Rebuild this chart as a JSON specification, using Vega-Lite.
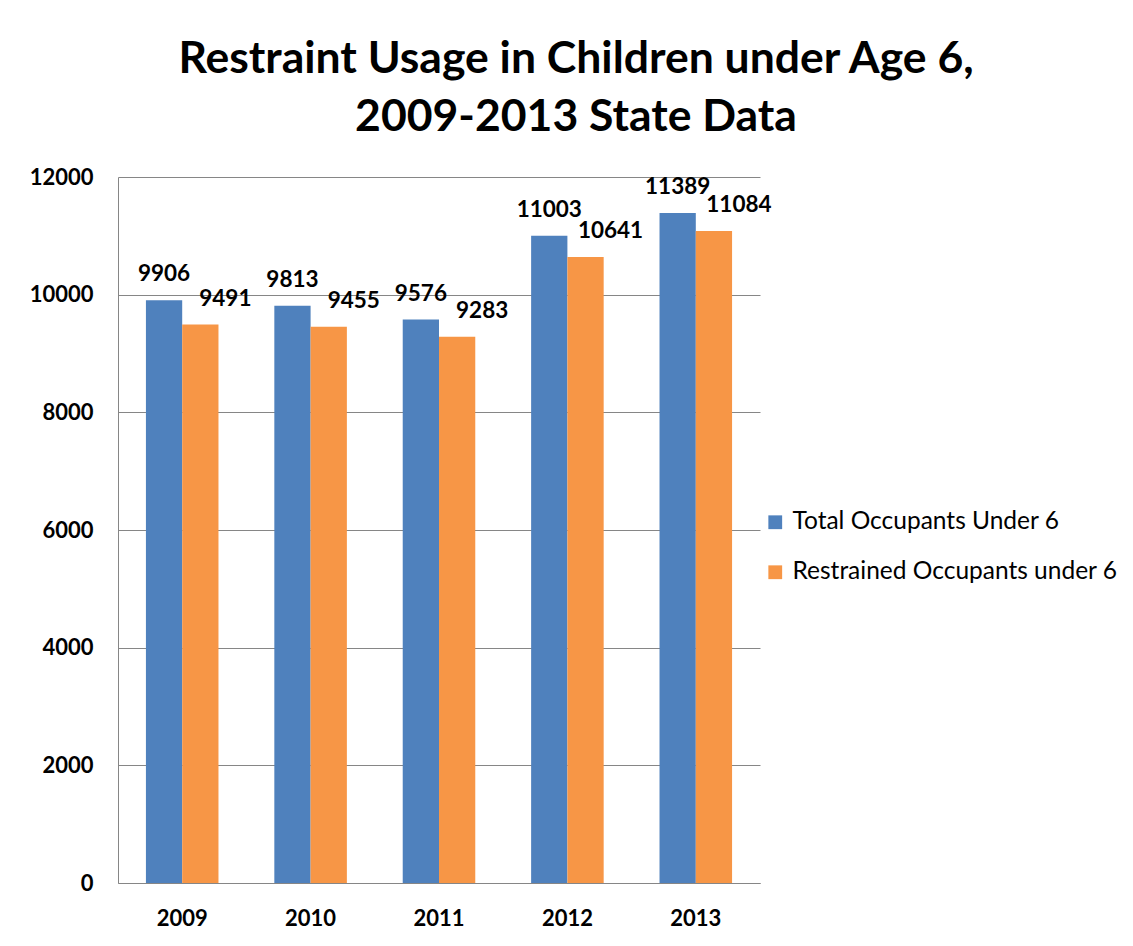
{
  "$schema": "https://vega.github.io/schema/vega-lite/v6.json",
  "width": 642,
  "height": 706,
  "autosize": {"type": "none"},
  "padding": {"left": 118, "top": 177, "right": 373, "bottom": 63},
  "background": "white",
  "config": {"view": {"stroke": null}},
  "title": {
    "text": ["Restraint Usage in Children under Age 6,", "2009-2013 State Data"],
    "font": "Lato",
    "fontSize": 44.5,
    "fontWeight": "bold",
    "color": "#000000",
    "anchor": "middle",
    "dx": 137,
    "lineHeight": 58,
    "offset": 26
  },
  "data": {
    "values": [
      {"year": "2009", "series": "Total Occupants Under 6", "value": 9906},
      {"year": "2009", "series": "Restrained Occupants under 6", "value": 9491},
      {"year": "2010", "series": "Total Occupants Under 6", "value": 9813},
      {"year": "2010", "series": "Restrained Occupants under 6", "value": 9455},
      {"year": "2011", "series": "Total Occupants Under 6", "value": 9576},
      {"year": "2011", "series": "Restrained Occupants under 6", "value": 9283},
      {"year": "2012", "series": "Total Occupants Under 6", "value": 11003},
      {"year": "2012", "series": "Restrained Occupants under 6", "value": 10641},
      {"year": "2013", "series": "Total Occupants Under 6", "value": 11389},
      {"year": "2013", "series": "Restrained Occupants under 6", "value": 11084}
    ]
  },
  "encoding": {
    "x": {
      "field": "year",
      "type": "nominal",
      "scale": {"paddingInner": 0.435, "paddingOuter": 0.2175},
      "axis": {
        "title": null,
        "labelAngle": 0,
        "labelFont": "Lato",
        "labelFontSize": 22,
        "labelFontWeight": "bold",
        "labelColor": "#000000",
        "labelPadding": 25,
        "ticks": false,
        "domainColor": "#868686",
        "grid": false
      }
    },
    "xOffset": {
      "field": "series",
      "type": "nominal",
      "sort": ["Total Occupants Under 6", "Restrained Occupants under 6"],
      "scale": {"paddingInner": 0, "paddingOuter": 0}
    },
    "y": {
      "field": "value",
      "type": "quantitative",
      "scale": {"domain": [0, 12000], "nice": false},
      "axis": {
        "title": null,
        "values": [0, 2000, 4000, 6000, 8000, 10000, 12000],
        "format": "d",
        "labelFont": "Lato",
        "labelFontSize": 22,
        "labelFontWeight": "bold",
        "labelColor": "#000000",
        "labelPadding": 25,
        "ticks": false,
        "domainColor": "#868686",
        "gridColor": "#868686",
        "gridOpacity": 1
      }
    }
  },
  "layer": [
    {
      "mark": {"type": "bar"},
      "encoding": {
        "color": {
          "field": "series",
          "type": "nominal",
          "sort": ["Total Occupants Under 6", "Restrained Occupants under 6"],
          "scale": {
            "domain": ["Total Occupants Under 6", "Restrained Occupants under 6"],
            "range": ["#4F81BD", "#F79646"]
          },
          "legend": {
            "orient": "none",
            "legendX": 645,
            "legendY": 333,
            "title": null,
            "symbolType": "square",
            "symbolSize": 190,
            "symbolStrokeWidth": 0,
            "labelFont": "Lato",
            "labelFontSize": 24.5,
            "labelColor": "#000000",
            "labelOffset": 5,
            "rowPadding": 25,
            "labelLimit": 400
          }
        }
      }
    },
    {
      "transform": [{"filter": "datum.series === 'Total Occupants Under 6'"}],
      "mark": {"type": "text", "font": "Lato", "fontSize": 22.5, "fontWeight": "bold", "baseline": "alphabetic", "dy": -19, "color": "#000000"},
      "encoding": {"text": {"field": "value", "type": "quantitative", "format": "d"}}
    },
    {
      "transform": [{"filter": "datum.series === 'Restrained Occupants under 6'"}],
      "mark": {"type": "text", "font": "Lato", "fontSize": 22.5, "fontWeight": "bold", "baseline": "alphabetic", "dy": -19, "dx": 25, "color": "#000000"},
      "encoding": {"text": {"field": "value", "type": "quantitative", "format": "d"}}
    }
  ]
}
